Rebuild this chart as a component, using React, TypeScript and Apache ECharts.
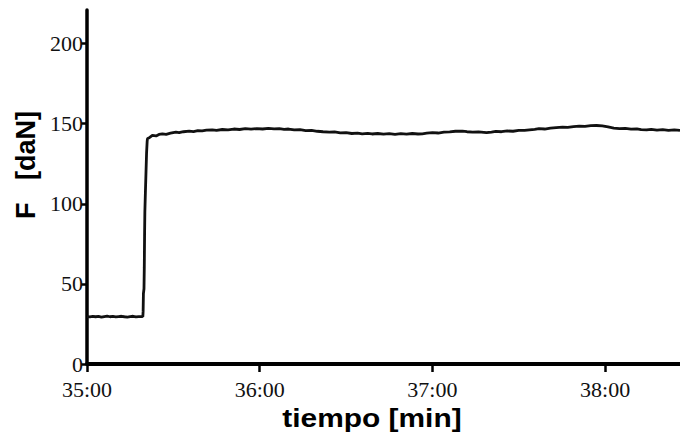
import React, { useEffect, useRef } from "react";
import * as echarts from "echarts";

// time in seconds after 35:00, force in daN
const lowPhase: [number, number][] = [
  [0, 29.6], [1, 29.4], [2, 29.8], [3, 29.5], [4, 29.7], [5, 29.3], [6, 29.6], [7, 29.9],
  [8, 29.5], [9, 29.7], [10, 29.4], [11, 29.6], [12, 29.8], [13, 29.5], [14, 29.3], [15, 29.6],
  [16, 29.8], [17, 29.4], [18, 29.6], [19, 29.7], [19.4, 29.5],
];

const risePhase: [number, number][] = [
  [19.5, 33], [19.6, 44], [19.8, 47], [19.9, 60], [20.0, 80], [20.1, 95], [20.3, 108],
  [20.5, 120], [20.7, 132], [20.9, 139], [21.0, 140.6],
];

const plateau: [number, number][] = [
  [21.8, 141.5], [22.7, 142.7], [24, 142.4], [25, 143.3], [26.2, 143.7], [27.5, 143.4],
  [29, 144.1], [30.9, 144.7], [32, 144.4], [33.5, 145.0], [35.5, 145.4], [37, 145.1],
  [38.5, 145.7], [40, 145.5], [41.5, 146.0], [43.5, 146.2], [45, 145.9], [47, 146.4],
  [49, 146.2], [51, 146.7], [53, 146.4], [55, 146.9], [57, 146.6], [59, 147.0], [61, 146.7],
  [63, 147.1], [65, 146.8], [66.8, 146.9], [68.5, 146.5], [70, 146.7], [72, 146.1],
  [74, 146.3], [76, 145.7], [78, 145.9], [80, 145.3], [82, 145.0], [84.2, 144.7], [86, 144.9],
  [88, 144.3], [90, 144.5], [92, 143.9], [94, 144.1], [95.6, 143.7], [97.5, 144.0],
  [99, 143.6], [101, 143.9], [103, 143.5], [105, 143.8], [107, 143.4], [109, 143.8],
  [111, 143.5], [113, 143.9], [115, 143.6], [116.5, 143.7], [118, 144.1], [120, 144.4],
  [122, 144.2], [124, 144.7], [126, 144.9], [128, 145.3], [130.4, 145.4], [132, 145.0],
  [134, 144.7], [136, 144.9], [138.8, 144.4], [140.5, 144.8], [142, 145.2], [144, 145.0],
  [146, 145.5], [148, 145.3], [150, 145.8], [152, 145.9], [153.7, 146.2], [155.5, 146.5],
  [157, 146.9], [159, 146.7], [161, 147.3], [163, 147.6], [165.2, 147.9], [167, 147.7],
  [169, 148.2], [171, 148.5], [173, 148.3], [175, 148.8], [177, 148.9], [179, 148.6],
  [181, 148.0], [183, 147.3], [185, 146.9], [187, 147.1], [189, 146.6], [191, 146.8],
  [192.5, 146.3], [194.4, 146.2], [196, 146.5], [198, 146.0], [200, 146.3], [202, 145.9],
  [204, 146.1], [206, 145.8],
];

const xTickValues = [0, 60, 120, 180];
const xTickLabels = ["35:00", "36:00", "37:00", "38:00"];
const yTickValues = [0, 50, 100, 150, 200];
const yTickLabels = ["0", "50", "100", "150", "200"];

export default function App() {
  const ref = useRef<HTMLDivElement>(null);
  useEffect(() => {
    if (!ref.current) return;
    const chart = echarts.init(ref.current, null, { renderer: "svg" });
    const serif = "'Liberation Serif', 'DejaVu Serif', serif";
    const sans = "'Liberation Sans', Arial, sans-serif";
    chart.setOption({
      animation: false,
      backgroundColor: "#ffffff",
      grid: { left: 87, right: 0, top: 10, bottom: 72, containLabel: false },
      xAxis: {
        type: "value",
        min: 0,
        max: 206,
        interval: 60,
        splitLine: { show: false },
        axisLine: { show: true, onZero: false, lineStyle: { color: "#000", width: 4 } },
        axisTick: {
          show: true,
          customValues: xTickValues,
          length: 8,
          lineStyle: { color: "#000", width: 2.5 },
        },
        axisLabel: {
          customValues: xTickValues,
          margin: 14,
          fontFamily: serif,
          fontSize: 22,
          color: "#111",
          formatter: (v: number) => {
            const i = xTickValues.indexOf(v);
            return i >= 0 ? xTickLabels[i] : "";
          },
        },
      },
      yAxis: {
        type: "value",
        min: 0,
        max: 221,
        interval: 50,
        splitLine: { show: false },
        axisLine: { show: true, lineStyle: { color: "#000", width: 3.5 } },
        axisTick: {
          show: true,
          customValues: yTickValues,
          length: 6,
          lineStyle: { color: "#000", width: 2.5 },
        },
        axisLabel: {
          customValues: yTickValues,
          margin: 4,
          fontFamily: serif,
          fontSize: 22,
          color: "#111",
          formatter: (v: number) => {
            const i = yTickValues.indexOf(v);
            return i >= 0 ? yTickLabels[i] : "";
          },
        },
      },
      series: [
        {
          type: "line",
          data: [...lowPhase, ...risePhase, ...plateau],
          showSymbol: false,
          symbol: "none",
          lineStyle: { color: "#111", width: 2.8 },
          clip: true,
        },
      ],
      graphic: [
        {
          type: "text",
          x: 372,
          y: 418,
          scaleX: 1.15,
          style: {
            text: "tiempo [min]",
            fontFamily: sans,
            fontWeight: "bold",
            fontSize: 26,
            fill: "#000",
            textAlign: "center",
            textVerticalAlign: "middle",
          },
        },
        {
          type: "text",
          x: 26,
          y: 165,
          rotation: Math.PI / 2,
          style: {
            text: "F   [daN]",
            fontFamily: sans,
            fontWeight: "bold",
            fontSize: 27,
            fill: "#000",
            textAlign: "center",
            textVerticalAlign: "middle",
          },
        },
      ],
    });
    return () => chart.dispose();
  }, []);
  return (
    <div
      ref={ref}
      style={{ position: "fixed", left: 0, top: 0, width: 680, height: 436, background: "#fff" }}
    />
  );
}
